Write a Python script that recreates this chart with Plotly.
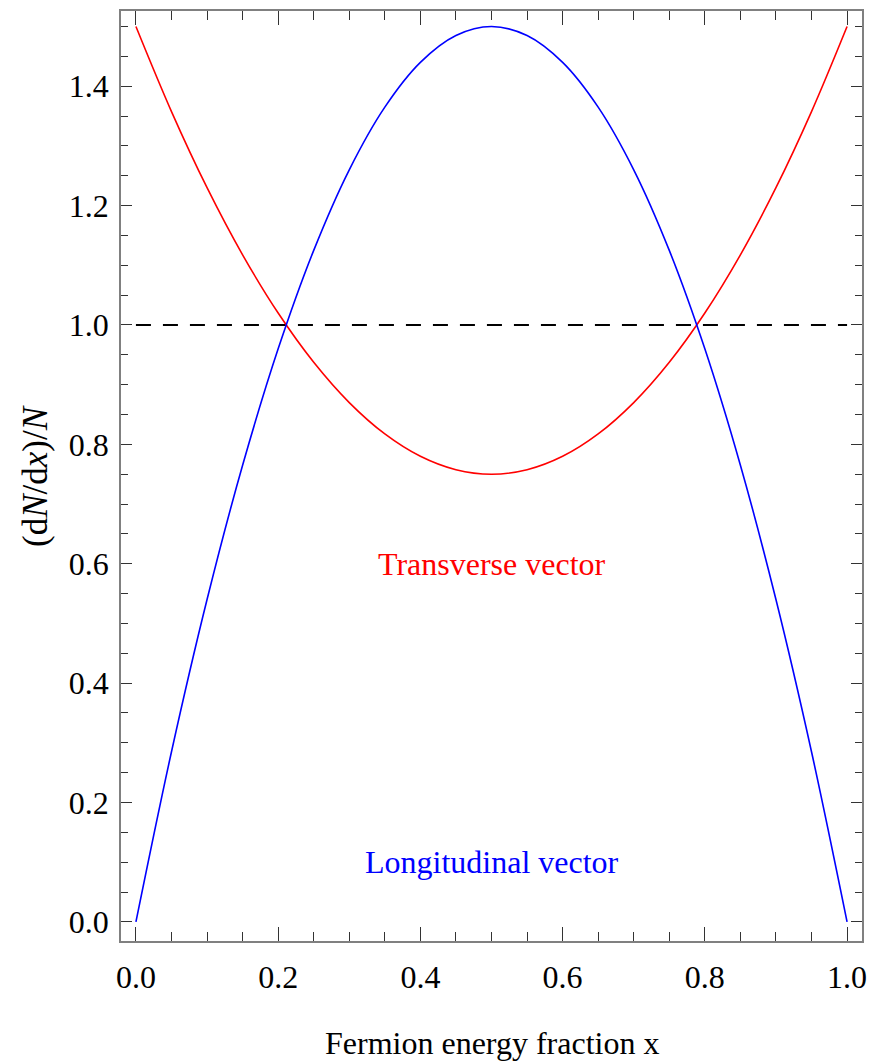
import plotly.graph_objects as go

# Values
x_vals = [0.0, 0.05, 0.10, 0.15, 0.20, 0.25, 0.30, 0.35, 0.40, 0.45, 0.50,
          0.55, 0.60, 0.65, 0.70, 0.75, 0.80, 0.85, 0.90, 0.95, 1.0]
transverse = [1.5, 1.3575, 1.23, 1.1175, 1.02, 0.9375, 0.87, 0.8175, 0.78, 0.7575, 0.75,
              0.7575, 0.78, 0.8175, 0.87, 0.9375, 1.02, 1.1175, 1.23, 1.3575, 1.5]
longitudinal = [0.0, 0.285, 0.54, 0.765, 0.96, 1.125, 1.26, 1.365, 1.44, 1.485, 1.5,
                1.485, 1.44, 1.365, 1.26, 1.125, 0.96, 0.765, 0.54, 0.285, 0.0]
ref_x = [0.0, 1.0]
ref_y = [1.0, 1.0]

x_ticks = [0.0, 0.2, 0.4, 0.6, 0.8, 1.0]
x_tick_labels = ["0.0", "0.2", "0.4", "0.6", "0.8", "1.0"]
y_ticks = [0.0, 0.2, 0.4, 0.6, 0.8, 1.0, 1.2, 1.4]
y_tick_labels = ["0.0", "0.2", "0.4", "0.6", "0.8", "1.0", "1.2", "1.4"]

label_T = "Transverse vector"
label_L = "Longitudinal vector"
x_title = "Fermion energy fraction x"
y_title = "(d<i>N</i>/d<i>x</i>)/<i>N</i>"

FONT = "Liberation Serif, Times New Roman, serif"

fig = go.Figure()
fig.add_trace(go.Scatter(x=ref_x, y=ref_y, mode="lines",
                         line=dict(color="black", width=1.8, dash="15px,12px"),
                         showlegend=False, hoverinfo="skip"))
fig.add_trace(go.Scatter(x=x_vals, y=transverse, mode="lines",
                         line=dict(color="#ff0000", width=1.6, shape="spline", smoothing=1.0),
                         showlegend=False))
fig.add_trace(go.Scatter(x=x_vals, y=longitudinal, mode="lines",
                         line=dict(color="#0000ff", width=1.6, shape="spline", smoothing=1.0),
                         showlegend=False))

fig.add_annotation(x=0.5, y=0.6, xref="x", yref="y", text=label_T, showarrow=False,
                   font=dict(family=FONT, size=32, color="#ff0000"))
fig.add_annotation(x=0.5, y=0.1, xref="x", yref="y", text=label_L, showarrow=False,
                   font=dict(family=FONT, size=32, color="#0000ff"))
fig.add_annotation(x=0.5, y=0, xref="paper", yref="paper", text=x_title, showarrow=False,
                   yanchor="middle", xanchor="center", yshift=-102,
                   font=dict(family=FONT, size=32, color="black"))
fig.add_annotation(x=0, y=0.5, xref="paper", yref="paper", text=y_title, showarrow=False,
                   yanchor="middle", xanchor="center", xshift=-86, textangle=-90,
                   font=dict(family=FONT, size=35, color="black"))

# page body has an 8px margin: figure is sized / placed to compensate
fig.update_layout(
    width=872, height=1056,
    margin=dict(l=113, r=18, t=1, b=123),
    paper_bgcolor="white", plot_bgcolor="white",
    font=dict(family=FONT, size=32, color="black"),
    showlegend=False,
)
fig.update_xaxes(
    range=[-0.021, 1.021], tickmode="array", tickvals=x_ticks, ticktext=x_tick_labels,
    ticks="inside", ticklen=14, tickwidth=1, tickcolor="#333333",
    showline=True, linecolor="#808080", linewidth=1.5, mirror="ticks",
    showgrid=False, zeroline=False, ticklabelstandoff=7,
    tickfont=dict(family=FONT, size=32, color="black"),
    minor=dict(dtick=0.05, tick0=0, ticks="inside", ticklen=9, tickwidth=1,
               tickcolor="#333333", showgrid=False),
)
fig.update_yaxes(
    range=[-0.032, 1.526], tickmode="array", tickvals=y_ticks, ticktext=y_tick_labels,
    ticks="inside", ticklen=11, tickwidth=1, tickcolor="#333333",
    showline=True, linecolor="#808080", linewidth=1.5, mirror="ticks",
    showgrid=False, zeroline=False, ticklabelstandoff=4,
    tickfont=dict(family=FONT, size=32, color="black"),
    minor=dict(dtick=0.05, tick0=0, ticks="inside", ticklen=7, tickwidth=1,
               tickcolor="#333333", showgrid=False),
)

fig.write_html("out.html")
